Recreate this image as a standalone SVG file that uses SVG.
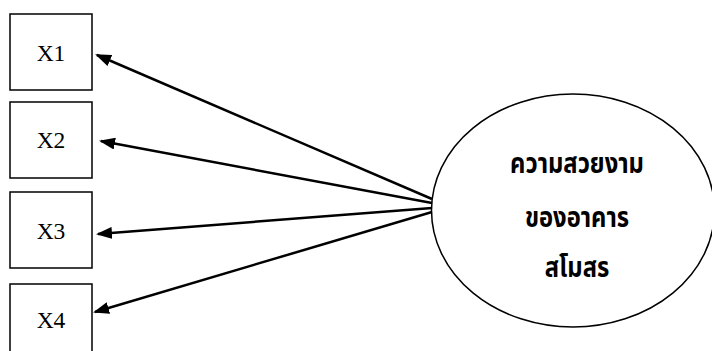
<svg xmlns="http://www.w3.org/2000/svg" width="712" height="351" viewBox="0 0 712 351">
<style>
.box{fill:#fff;stroke:#000;stroke-width:1.5}
.lbl{font-family:"Liberation Serif","Times New Roman",serif;font-size:23.5px;fill:#000;text-anchor:middle}
.th{font-family:"Noto Sans Thai","Noto Serif Thai","Loma","Garuda","Tlwg Typo","DejaVu Sans",sans-serif;font-size:29px;font-weight:bold;fill:#000;text-anchor:middle}
.conn{stroke:#000;stroke-width:2.5;fill:none;marker-end:url(#ah)}
</style>
<defs>
<marker id="ah" markerWidth="16" markerHeight="12" refX="14" refY="6" orient="auto" markerUnits="userSpaceOnUse">
<path d="M0,0 L16,6 L0,12 Z" fill="#000"/>
</marker>
</defs>
<g id="x1"><rect class="box" x="10" y="14" width="82" height="76"/><text class="lbl" x="51" y="61">X1</text></g>
<g id="x2"><rect class="box" x="10" y="102" width="82" height="76"/><text class="lbl" x="51" y="148">X2</text></g>
<g id="x3"><rect class="box" x="10" y="192" width="82" height="76"/><text class="lbl" x="51" y="239">X3</text></g>
<g id="x4"><rect class="box" x="10" y="284" width="82" height="80"/><text class="lbl" x="51" y="328">X4</text></g>
<g id="latent">
<ellipse cx="573" cy="210.5" rx="141.5" ry="116.5" fill="#fff" stroke="#000" stroke-width="1.5"/>
<text class="th" transform="translate(577,173) scale(0.82,1)">ความสวยงาม</text>
<text class="th" transform="translate(577,227) scale(0.82,1)">ของอาคาร</text>
<text class="th" transform="translate(577,277) scale(0.82,1)">สโมสร</text>
</g>
<g id="connectors">
<line class="conn" x1="432" y1="199" x2="97" y2="55"/>
<line class="conn" x1="432" y1="203" x2="101" y2="141"/>
<line class="conn" x1="432" y1="208" x2="98" y2="234"/>
<line class="conn" x1="432" y1="212" x2="95" y2="312"/>
</g>
</svg>
